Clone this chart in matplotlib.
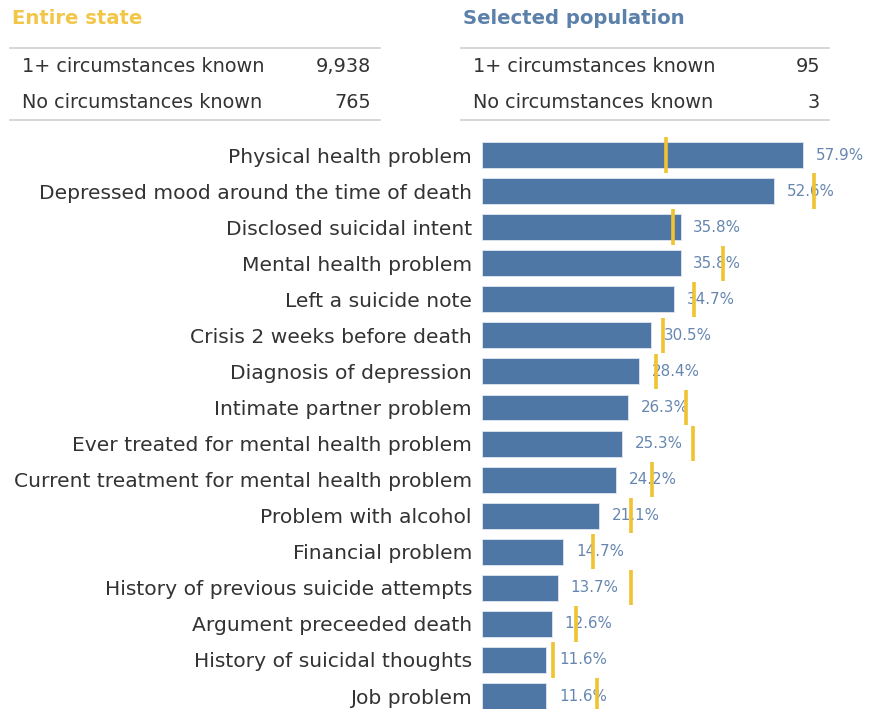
import matplotlib
matplotlib.use("Agg")
import matplotlib.pyplot as plt

categories = [
    "Physical health problem",
    "Depressed mood around the time of death",
    "Disclosed suicidal intent",
    "Mental health problem",
    "Left a suicide note",
    "Crisis 2 weeks before death",
    "Diagnosis of depression",
    "Intimate partner problem",
    "Ever treated for mental health problem",
    "Current treatment for mental health problem",
    "Problem with alcohol",
    "Financial problem",
    "History of previous suicide attempts",
    "Argument preceeded death",
    "History of suicidal thoughts",
    "Job problem",
]
selected_pct = [57.9, 52.6, 35.8, 35.8, 34.7, 30.5, 28.4, 26.3, 25.3, 24.2,
                21.1, 14.7, 13.7, 12.6, 11.6, 11.6]
state_pct = [33.1, 59.9, 34.4, 43.4, 38.3, 32.7, 31.4, 36.7, 38.0, 30.7,
             26.8, 20.1, 26.8, 16.9, 12.8, 20.8]

table_rows = ["1+ circumstances known", "No circumstances known"]
state_counts = ["9,938", "765"]
selected_counts = ["95", "3"]

BLUE = "#4e77a5"
YELLOW = "#f0c330"
TEXT = "#333333"
FONT = "DejaVu Sans"

W, H = 871, 709
fig = plt.figure(figsize=(W / 100, H / 100), dpi=100)

# bar axes, placed in pixel terms
left_px, right_px, top_px = 481.7, 870.6, 137
ax = fig.add_axes([left_px / W, 0, (right_px - left_px) / W, (H - top_px) / H])
y = list(range(len(categories)))
ax.barh(y, selected_pct, height=0.72, color=BLUE, edgecolor="#dfe6ef", linewidth=0.6)
ax.vlines(state_pct, [i - 0.49 for i in y], [i + 0.49 for i in y],
          color=YELLOW, linewidth=2.6, clip_on=False, zorder=3)
for i, v in enumerate(selected_pct):
    ax.text(v + 2.3, i, f"{v:.1f}%", va="center", ha="left", fontsize=10.9,
            color="#5579a8", family=FONT, alpha=0.9, zorder=2)
ax.set_xlim(0, 70)
ax.set_ylim(15.36, -0.5)
ax.set_yticks(y)
ax.set_yticklabels(categories, fontsize=14.6, color=TEXT, family=FONT)
ax.tick_params(axis="y", length=0, pad=7)
ax.set_xticks([])
for s in ax.spines.values():
    s.set_visible(False)

# header tables
def header(x0, x1, title, tcolor, counts):
    fig.text((x0 + 2) / W, 1 - 18 / H, title, color=tcolor, fontsize=14.1, fontweight="bold",
             family=FONT, va="center", ha="left")
    for yy in (48, 120):
        fig.add_artist(plt.Line2D([x0 / W, x1 / W], [1 - yy / H, 1 - yy / H],
                                  color="#d0d0d0", linewidth=1.2))
    for j, (lab, n) in enumerate(zip(table_rows, counts)):
        yy = 1 - (67 + 36 * j) / H
        fig.text((x0 + 12) / W, yy, lab, color=TEXT, fontsize=13.9, family=FONT,
                 va="center", ha="left")
        fig.text((x1 - 9) / W, yy, n, color=TEXT, fontsize=13.9, family=FONT,
                 va="center", ha="right")

header(10, 380, "Entire state", "#f2c649", state_counts)
header(461, 829, "Selected population", "#5b80aa", selected_counts)

fig.savefig("out.png", dpi=100)
